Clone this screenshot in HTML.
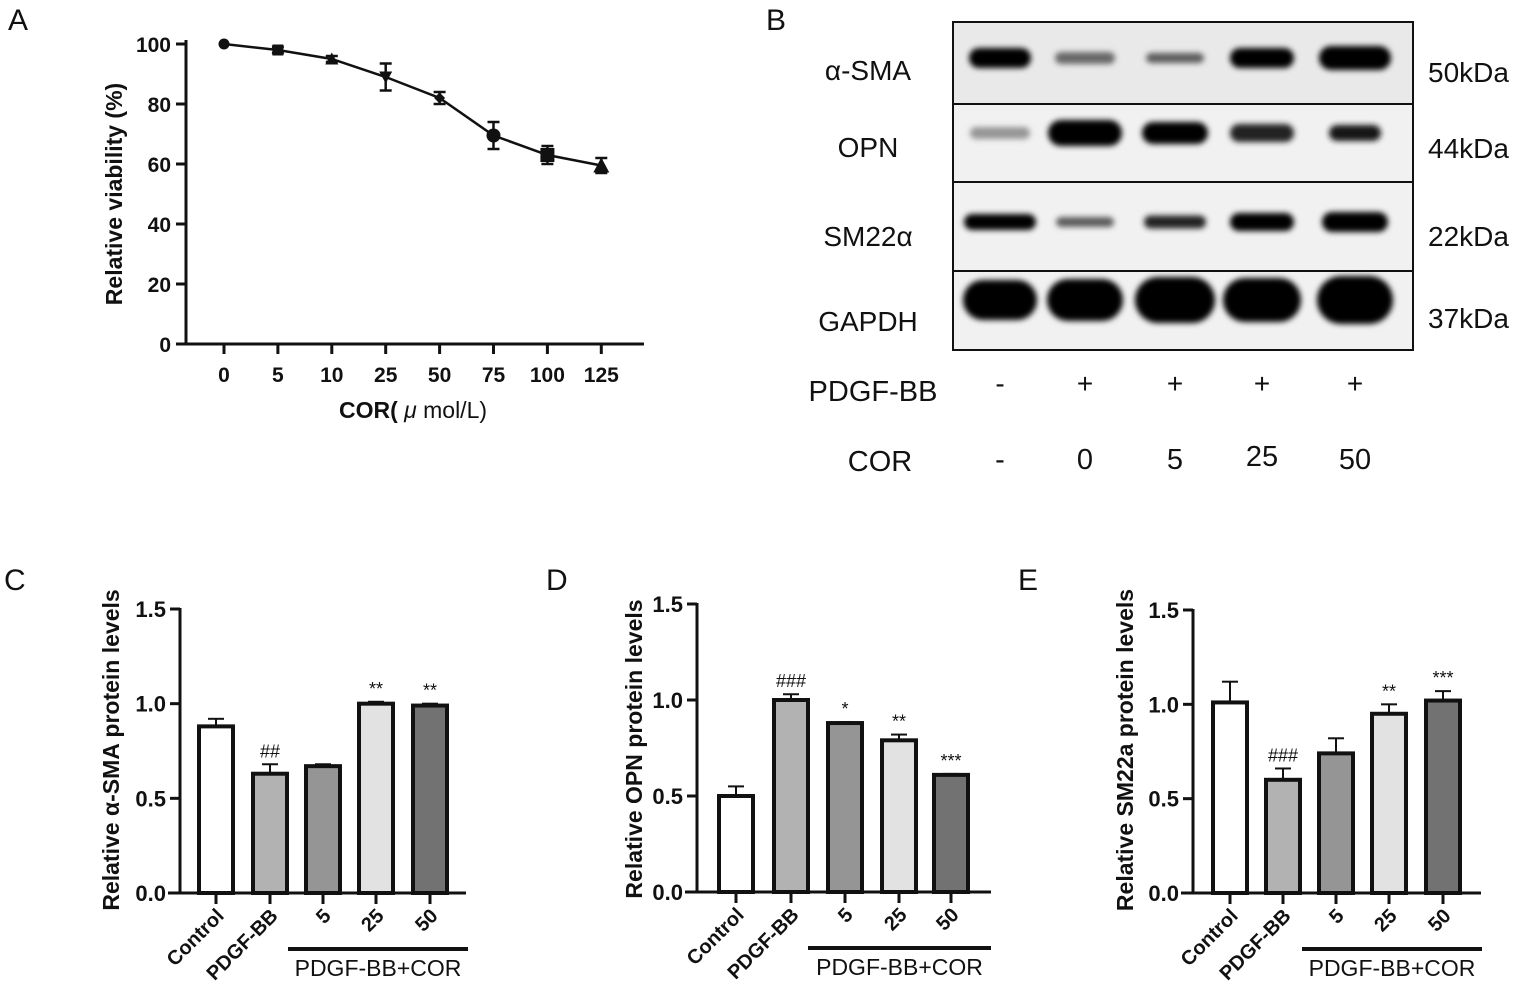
<!DOCTYPE html>
<html><head><meta charset="utf-8"><style>
body{margin:0;background:#fff;width:1524px;height:999px;overflow:hidden}
svg{position:absolute;left:0;top:0}
text{font-family:"Liberation Sans",sans-serif;fill:#111}
.b{font-weight:bold}
</style></head><body>
<svg id="s" width="1524" height="999">
<defs>
<filter id="blur" x="-30%" y="-80%" width="160%" height="260%"><feGaussianBlur stdDeviation="3"/></filter>
</defs>
<text x="8" y="30" font-size="30">A</text>
<text x="766" y="30" font-size="30">B</text>
<text x="4" y="590" font-size="30">C</text>
<text x="546" y="590" font-size="30">D</text>
<text x="1018" y="590" font-size="30">E</text>
<g id="gA"></g>
<g id="gB"></g>
<g id="gC"></g>
<g id="gD"></g>
<g id="gE"></g>
</svg>
<script>
// Panel A data
const doseLabels=["0","5","10","25","50","75","100","125"];
const viability=[100,98,95,89,82,69.5,63,59.5];
const viabilityErr=[0,1,1,4.5,2,4.5,3,2.5];
const markerShapes=["circle","square","up","down","diamond","circle","square","up"];
const viaTicks=[0,20,40,60,80,100];
// Bar data
const barCats=["Control","PDGF-BB","5","25","50"];
const smaVals=[0.88,0.63,0.67,1.00,0.99];
const smaErr=[0.04,0.05,0.01,0.01,0.01];
const smaSig=["","##","","**","**"];
const opnVals=[0.50,1.00,0.88,0.79,0.61];
const opnErr=[0.05,0.03,0.005,0.03,0.005];
const opnSig=["","###","*","**","***"];
const smVals=[1.01,0.60,0.74,0.95,1.02];
const smErr=[0.11,0.06,0.08,0.05,0.05];
const smSig=["","###","","**","***"];
const barTicks=[0,0.5,1.0,1.5];
const barTickLabels=["0.0","0.5","1.0","1.5"];
const fills=["#ffffff","#b2b2b2","#959595","#e2e2e2","#727272"];

const NS="http://www.w3.org/2000/svg";
function mk(p,tag,at,txt){const e=document.createElementNS(NS,tag);for(const k in at)e.setAttribute(k,at[k]);if(txt!==undefined)e.textContent=txt;p.appendChild(e);return e;}

// ---- Panel A ----
(function(){
const g=document.getElementById('gA');
const y=v=>344-v*3.0;
const x=i=>224+i*53.9;
let e=mk(g,'line',{x1:186,y1:40,x2:186,y2:345,stroke:'#111','stroke-width':3});

e=mk(g,'line',{x1:176,y1:344,x2:644,y2:344,stroke:'#111','stroke-width':3});

viaTicks.forEach(t=>{
 mk(g,'line',{x1:176,y1:y(t),x2:186,y2:y(t),stroke:'#111','stroke-width':3});
 e=mk(g,'text',{x:171,y:y(t)+8,'font-size':21,'text-anchor':'end','class':'b'},String(t));
 
});
doseLabels.forEach((l,i)=>{
 mk(g,'line',{x1:x(i),y1:344,x2:x(i),y2:354,stroke:'#111','stroke-width':3});
 e=mk(g,'text',{x:x(i),y:382,'font-size':21,'text-anchor':'middle','class':'b'},l);
 
});
e=mk(g,'polyline',{points:viability.map((v,i)=>x(i)+','+y(v)).join(' '),fill:'none',stroke:'#111','stroke-width':2.5});

viability.forEach((v,i)=>{
 const cx=x(i),cy=y(v),er=viabilityErr[i];
 if(er>0){const a=y(v+er),b=y(v-er);
  mk(g,'line',{x1:cx,y1:a,x2:cx,y2:b,stroke:'#111','stroke-width':2.5});
  mk(g,'line',{x1:cx-6,y1:a,x2:cx+6,y2:a,stroke:'#111','stroke-width':2.5});
  mk(g,'line',{x1:cx-6,y1:b,x2:cx+6,y2:b,stroke:'#111','stroke-width':2.5});}
 const s=markerShapes[i];let m;const r=(i>4)?7:5.5;
 if(s==='circle')m=mk(g,'circle',{cx:cx,cy:cy,r:r,fill:'#111'});
 else if(s==='square')m=mk(g,'rect',{x:cx-r,y:cy-r,width:2*r,height:2*r,fill:'#111'});
 else if(s==='up')m=mk(g,'polygon',{points:`${cx-r-1},${cy+r} ${cx+r+1},${cy+r} ${cx},${cy-r-1}`,fill:'#111'});
 else if(s==='down')m=mk(g,'polygon',{points:`${cx-r-1},${cy-r} ${cx+r+1},${cy-r} ${cx},${cy+r+1}`,fill:'#111'});
 else m=mk(g,'polygon',{points:`${cx-r},${cy} ${cx},${cy-r} ${cx+r},${cy} ${cx},${cy+r}`,fill:'#111'});
 
});
e=mk(g,'text',{x:0,y:0,'font-size':23,'text-anchor':'middle','class':'b',transform:'translate(122,194) rotate(-90)'},'Relative viability (%)');

e=mk(g,'text',{x:413,y:418,'font-size':23,'text-anchor':'middle'});

mk(e,'tspan',{'font-weight':'bold'},'COR(');mk(e,'tspan',{'font-style':'italic'},' μ ');mk(e,'tspan',{},'mol/L)');
})();

// ---- Panel B ----
(function(){
const g=document.getElementById('gB');
const L=953,R=1413,rows=[[22,104],[104,182],[182,271],[271,350]];
const lanes=[1000,1085,1175,1262,1355];
const bandY=[58,133,222,300];
const bands=[
 [[62,20,1],[60,12,0.55],[58,10,0.6],[64,20,1],[72,24,1]],
 [[60,12,0.35],[74,26,1],[66,22,1],[64,18,0.85],[52,16,0.9]],
 [[72,16,1],[58,10,0.6],[62,13,0.85],[64,18,1],[66,20,1]],
 [[74,40,1],[76,42,1],[80,46,1],[78,44,1],[76,48,1]]];
const names=["α-SMA","OPN","SM22α","GAPDH"],kda=["50kDa","44kDa","22kDa","37kDa"],labY=[80,157,246,331],kY=[82,158,246,328];
rows.forEach((r,i)=>{
 let e=mk(g,'rect',{x:L,y:r[0],width:R-L,height:r[1]-r[0],fill:i===0?'#e9e9e9':'#f1f1f1',stroke:'#111','stroke-width':2});
 
 bands[i].forEach((b,j)=>{
  const c=Math.round(255*(1-b[2])*0.9);
  e=mk(g,'rect',{x:lanes[j]-b[0]/2,y:bandY[i]-b[1]/2,width:b[0],height:b[1],rx:b[1]/2,fill:`rgb(${c},${c},${c})`,filter:'url(#blur)'});
  
 });
 e=mk(g,'text',{x:868,y:labY[i],'font-size':28,'text-anchor':'middle'},names[i]);
 
 e=mk(g,'text',{x:1428,y:kY[i],'font-size':28},kda[i]);
 
});
let e=mk(g,'text',{x:873,y:401,'font-size':29,'text-anchor':'middle'},'PDGF-BB');

e=mk(g,'text',{x:880,y:471,'font-size':29,'text-anchor':'middle'},'COR');

const pd=["-","+","+","+","+"],co=["-","0","5","25","50"];
lanes.forEach((x,j)=>{
 e=mk(g,'text',{x:x,y:393,'font-size':28,'text-anchor':'middle'},pd[j]);
 
 e=mk(g,'text',{x:x,y:j===3?466:469,'font-size':29,'text-anchor':'middle'},co[j]);
 
});
})();

// ---- Bar charts ----
function barChart(id,ax,y0,y15,cx,axEnd,lineL,lineR,vals,errs,sig,title,tx){
 const g=document.getElementById(id);
 const y=v=>y0-(y0-y15)*v/1.5;
 let e=mk(g,'line',{x1:ax,y1:y15-1,x2:ax,y2:y0+1,stroke:'#111','stroke-width':3});
 
 e=mk(g,'line',{x1:ax-12,y1:y0,x2:axEnd,y2:y0,stroke:'#111','stroke-width':3});
 
 barTicks.forEach((t,i)=>{
  mk(g,'line',{x1:ax-10,y1:y(t),x2:ax,y2:y(t),stroke:'#111','stroke-width':3});
  e=mk(g,'text',{x:ax-14,y:y(t)+8,'font-size':22,'text-anchor':'end','class':'b'},barTickLabels[i]);
  
 });
 vals.forEach((v,i)=>{
  const x=cx[i],w=34;
  const top=y(v+errs[i]);
  mk(g,'line',{x1:x,y1:top,x2:x,y2:y(v),stroke:'#111','stroke-width':2});
  mk(g,'line',{x1:x-8,y1:top,x2:x+8,y2:top,stroke:'#111','stroke-width':2});
  e=mk(g,'rect',{x:x-w/2,y:y(v),width:w,height:y0-y(v),fill:fills[i],stroke:'#111','stroke-width':4});
  
  if(sig[i]){e=mk(g,'text',{x:x,y:top-7,'font-size':18,'text-anchor':'middle'},sig[i]);
   }
  mk(g,'line',{x1:x,y1:y0,x2:x,y2:y0+11,stroke:'#111','stroke-width':3});
  e=mk(g,'text',{x:0,y:0,'font-size':20,'text-anchor':'end','class':'b',transform:`translate(${x+9},${y0+24}) rotate(-45)`},barCats[i]);
  
 });
 e=mk(g,'line',{x1:lineL,y1:y0+56,x2:lineR,y2:y0+56,stroke:'#111','stroke-width':4});
 
 e=mk(g,'text',{x:(lineL+lineR)/2,y:y0+83,'font-size':23,'text-anchor':'middle'},'PDGF-BB+COR');
 
 e=mk(g,'text',{x:0,y:0,'font-size':23,'text-anchor':'middle','class':'b',transform:`translate(${tx},${y0-143}) rotate(-90)`},title);
 
}
barChart('gC',180,893,609,[216,270,323,376,430],466,288,468,smaVals,smaErr,smaSig,'Relative α-SMA protein levels',119);
barChart('gD',697,892,604,[736,791,845,899,951],991,808,991,opnVals,opnErr,opnSig,'Relative OPN protein levels',642);
barChart('gE',1193,893,610,[1230,1283,1336,1389,1443],1481,1302,1482,smVals,smErr,smSig,'Relative SM22a protein levels',1133);
</script>
</body></html>
